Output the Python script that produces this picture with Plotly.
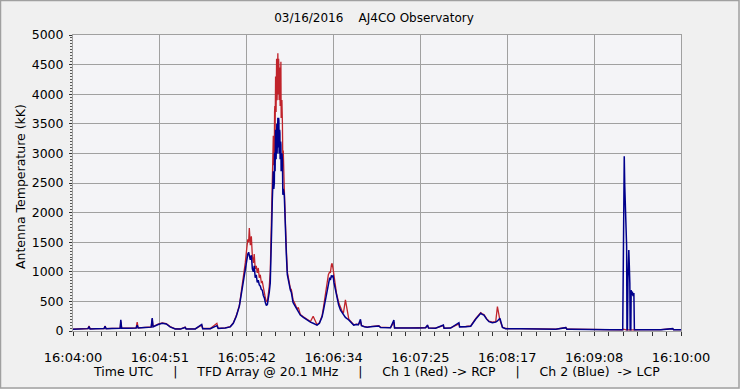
import plotly.graph_objects as go

# time in seconds after 16:04:00 UTC
t_sec = [0, 3.0, 6.5, 8.9, 9.5, 10.1, 13.6, 18.4, 19.0, 19.6, 23.1, 27.9, 28.3, 28.8, 32.6, 37.4, 38.0, 38.6,
         42.7, 46.3, 46.9, 47.4, 50.4, 52.8, 55.2, 57.5, 60.5, 63.5, 66.4, 67.0, 72.4, 76.2, 76.8, 81.3, 85.2, 86.0,
         90.1, 93.1, 94.9, 96.7, 98.5, 99.6, 100.8, 102.0, 102.9, 103.5, 104.0, 104.4, 105.0, 105.6, 106.2, 106.8,
         107.3, 107.9, 108.5, 109.1, 109.7, 110.3, 110.9, 111.5, 112.1, 112.7, 113.3, 113.9, 114.5, 115.1, 115.6,
         116.2, 116.8,
         117.4, 117.7, 118.0, 118.3, 118.6, 118.9, 119.2, 119.35, 119.5, 119.65, 119.8, 119.95, 120.1, 120.25,
         120.4, 120.55, 120.7, 120.85, 121.0, 121.15, 121.3, 121.45, 121.6, 121.75, 121.9, 122.05, 122.2, 122.35,
         122.5, 122.65, 122.8, 122.95, 123.1, 123.25, 123.4, 123.7, 124.0, 124.25, 124.5,
         125.1, 125.7, 126.3, 126.9, 127.5, 128.7, 129.3, 130.3,
         131.1, 132.7, 133.4, 134.6, 136.4, 138.6, 140.6, 142.2, 144.5, 145.9, 147.5, 148.3, 149.5, 150.6, 151.2,
         152.0, 152.4, 153.0, 153.4, 154.0, 154.5, 155.4, 156.0, 157.3, 158.4, 159.4, 160.1, 161.3, 163.3, 164.3,
         166.2, 167.8, 169.0, 170.2, 170.8, 172.6, 174.2, 176.1, 179.1, 181.1, 182.1, 185.0, 188.0, 190.0, 190.4,
         193.9, 196.9, 199.9, 204.6, 208.8, 209.9, 210.5, 214.7, 219.3, 219.7, 223.6, 228.5, 228.9, 232.5, 235.5,
         238.4, 240.2, 241.4, 242.3, 243.3, 244.9, 246.3, 248.3, 250.3, 251.3, 252.8, 254.3, 256.2, 265.1, 277.0,
         285.9, 291.8, 292.4, 294.8, 306.6, 318.5, 325.5, 325.8, 326.2, 326.4, 326.7, 327.1, 327.5, 327.8, 328.0,
         328.3, 328.6, 329.1, 329.4, 329.7, 329.9, 330.3, 330.5, 330.8, 331.2, 331.6, 332.1, 332.4, 336.3, 348.1,
         355.1, 355.6, 360.0]

ch1_red = [32, 36, 34, 42, 85, 38, 40, 42, 85, 40, 44, 47, 160, 48, 50, 52, 150, 52,
           62, 68, 200, 75, 115, 135, 125, 75, 38, 34, 65, 37, 37, 100, 42, 42, 130, 45,
           52, 72, 135, 260, 430, 640, 900, 1150, 1400, 1550, 1500, 1740, 1450, 1600, 1255, 1150,
           1300, 1050, 1100, 980, 1065, 900, 950, 820, 833, 700, 650, 557, 500, 500, 600,
           750, 1000,
           1600, 2200, 2600, 2900, 3300, 2800, 3000, 3700, 3800, 3300, 3500, 4300, 4200, 3700,
           3900, 4600, 4500, 3900, 4200, 4650, 4690, 4000, 4300, 4600, 4500, 3900, 4100, 4450,
           4400, 3800, 4000, 4550, 4550, 3600, 3700, 3900, 3500, 2800, 3050,
           2400, 1750, 1400, 1000, 900, 720, 700, 525,
           480, 370, 400, 280, 240, 195, 160, 250, 105, 140, 260, 400, 640, 850, 950,
           1000, 980, 1115, 1144, 1050, 950, 750, 640, 480, 380, 330, 300, 525, 200, 160,
           105, 115, 110, 160, 95, 75, 65, 75, 85, 90, 65, 58, 58, 150, 53,
           53, 58, 53, 55, 58, 90, 53, 50, 90, 48, 53, 120, 73, 76, 85,
           210, 270, 310, 290, 280, 210, 165, 150, 160, 411, 180, 65, 42, 40, 32,
           30, 58, 32, 32, 24, 24, 18, 30, 25, 20, 22, 20, 18, 20, 18,
           18, 22, 20, 18, 20, 18, 18, 22, 20, 18, 20, 18, 20, 22, 24,
           40, 24, 24]

ch2_blue = [30, 35, 32, 40, 75, 35, 38, 40, 80, 38, 42, 45, 190, 45, 48, 50, 95, 50,
            60, 65, 220, 70, 110, 130, 120, 70, 35, 32, 60, 35, 35, 110, 40, 40, 90, 42,
            50, 70, 130, 250, 420, 620, 850, 1080, 1200, 1300, 1330, 1250, 1200, 1280, 1050, 1000,
            1100, 900, 950, 820, 860, 780, 760, 700, 690, 600, 560, 480, 430, 450, 520,
            650, 810,
            1300, 1800, 2200, 2500, 2700, 2400, 2500, 3000, 3000, 2700, 2900, 3400, 3350, 2900,
            3100, 3500, 3500, 3000, 3300, 3550, 3600, 3100, 3400, 3600, 3550, 3000, 3200, 3400,
            3350, 2900, 3000, 3200, 3150, 2700, 2850, 3000, 2890, 2300, 2400,
            2300, 1650, 1300, 950, 850, 690, 650, 480,
            440, 355, 330, 270, 230, 186, 150, 130, 100, 130, 240, 350, 525, 700, 820,
            900, 860, 940, 918, 930, 820, 690, 580, 440, 350, 300, 280, 230, 186, 150,
            100, 110, 105, 198, 90, 70, 62, 70, 80, 85, 60, 55, 55, 186, 50,
            50, 55, 50, 52, 55, 100, 50, 48, 100, 45, 50, 140, 70, 73, 80,
            198, 260, 300, 280, 270, 200, 157, 140, 150, 170, 214, 62, 40, 38, 30,
            28, 56, 30, 30, 22, 22, 22, 1830, 1700, 2950, 2450, 2000, 1540, 1430, 22,
            22, 900, 1370, 1100, 810, 22, 22, 690, 610, 665, 590, 640, 22, 20, 22,
            40, 22, 22]

x_tick_vals = [0, 51.43, 102.86, 154.29, 205.71, 257.14, 308.57, 360]
x_tick_text = ["16:04:00", "16:04:51", "16:05:42", "16:06:34", "16:07:25", "16:08:17", "16:09:08", "16:10:00"]
y_tick_vals = [0, 500, 1000, 1500, 2000, 2500, 3000, 3500, 4000, 4500, 5000]

FONT = "DejaVu Sans"
GRID = "#A0A0A0"
SP = "\u00a0" * 5

fig = go.Figure()
fig.add_trace(go.Scatter(x=t_sec, y=ch1_red, mode="lines", name="Ch 1 (Red) RCP",
                         line=dict(color="#C0232B", width=1.3)))
fig.add_trace(go.Scatter(x=t_sec, y=ch2_blue, mode="lines", name="Ch 2 (Blue) LCP",
                         line=dict(color="#00008C", width=1.5)))

fig.update_layout(
    width=740, height=389,
    margin=dict(l=73, r=59, t=35, b=58),
    paper_bgcolor="#F0F0F0",
    plot_bgcolor="#F4F4F7",
    showlegend=False,
    font=dict(family=FONT, size=12, color="#000000"),
    title=dict(text="03/16/2016\u00a0\u00a0\u00a0\u00a0AJ4CO Observatory", x=374 / 740, xanchor="center",
               y=1 - 18 / 389, yanchor="middle", font=dict(family=FONT, size=12, color="#000000")),
)

fig.update_xaxes(
    range=[0, 360], tickmode="array", tickvals=x_tick_vals, ticktext=x_tick_text,
    showgrid=True, gridcolor=GRID, gridwidth=1, zeroline=False, automargin=False,
    ticks="outside", ticklen=4, tickcolor="#333333", tickwidth=1,
    ticklabelstandoff=10,
    minor=dict(tick0=0, dtick=360 / 42, ticks="outside", ticklen=4, tickcolor="#333333", showgrid=False),
    showline=True, linecolor=GRID, linewidth=1, mirror=True,
    tickfont=dict(family=FONT, size=13),
)
fig.update_yaxes(
    range=[0, 5000], tickmode="array", tickvals=y_tick_vals,
    showgrid=True, gridcolor=GRID, gridwidth=1, zeroline=False, automargin=False,
    ticks="outside", ticklen=3, tickcolor="#333333", tickwidth=1,
    ticklabelstandoff=3,
    minor=dict(tick0=0, dtick=50, ticks="outside", ticklen=2, tickcolor="#555555", showgrid=False),
    showline=True, linecolor=GRID, linewidth=1, mirror=True,
    tickfont=dict(family=FONT, size=12.5),
)

fig.add_annotation(text="Antenna Temperature (kK)", xref="paper", yref="paper",
                   x=(20 - 73) / 608, y=(331 - 187) / 296, textangle=-90,
                   showarrow=False, xanchor="center", yanchor="middle",
                   font=dict(family=FONT, size=12.5))
fig.add_annotation(text="Time UTC" + SP + "|" + SP + "TFD Array @ 20.1 MHz" + SP + "|" + SP
                        + "Ch 1 (Red) -> RCP" + SP + "|" + SP + "Ch 2 (Blue)\u00a0\u00a0-> LCP",
                   xref="paper", yref="paper", x=(376 - 73) / 608, y=-(371 - 331) / 296,
                   showarrow=False, xanchor="center", yanchor="middle",
                   font=dict(family=FONT, size=12.5))

# outer frame of the picture
fig.add_shape(type="rect", xref="paper", yref="paper",
              x0=-72.5 / 608, x1=(739 - 73) / 608, y0=-(388 - 331) / 296, y1=(331 - 0.5) / 296,
              line=dict(color="#A0A0A0", width=1.5), fillcolor="rgba(0,0,0,0)", layer="below")

fig.write_html("out.html", config={"displayModeBar": False},
               post_script="document.body.style.margin='0';document.body.style.padding='0';")
